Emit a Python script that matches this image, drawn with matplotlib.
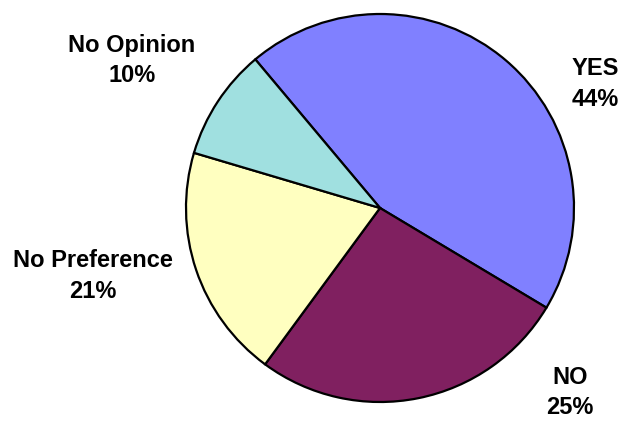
import matplotlib
matplotlib.use("Agg")
import matplotlib.pyplot as plt

"""""""""""""""""""""""""""""""""""""""""""""""""""""""""
: Data
"""""""""""""""""""""""""""""""""""""""""""""""""""""""""
labels = ["YES", "NO", "No Preference", "No Opinion"]
# slice sizes as drawn in the picture
sizes = [44.7, 26.5, 19.5, 9.3]
# percentages as printed on the labels
pct_text = [44, 25, 21, 10]
colors = ["#8080FF", "#802060", "#FFFFC0", "#A0E0E0"]

# label centres, in units of the pie radius
label_pos = [(1.11, 0.64), (0.98, -0.95), (-1.48, -0.35), (-1.28, 0.76)]

"""""""""""""""""""""""""""""""""""""""""""""""""""""""""
: Plotting
"""""""""""""""""""""""""""""""""""""""""""""""""""""""""
W, H = 622, 421
cx, cy, r = 380, 208, 194

fig = plt.figure(figsize=(W / 100, H / 100), dpi=100)
ax = fig.add_axes([(cx - r) / W, (H - cy - r) / H, 2 * r / W, 2 * r / H])

ax.pie(sizes, colors=colors, startangle=130, counterclock=False,
       wedgeprops=dict(edgecolor="black", linewidth=1.6))
ax.set_xlim(-1, 1)
ax.set_ylim(-1, 1)
ax.set_aspect("equal")
ax.axis("off")

for name, v, (x, y) in zip(labels, pct_text, label_pos):
    ax.text(x, y, f"{name}\n{v}%", ha="center", va="center",
            family="Liberation Sans", fontweight="bold", fontsize=17,
            linespacing=1.42)

fig.savefig("out.png", dpi=100)
plt.close()
